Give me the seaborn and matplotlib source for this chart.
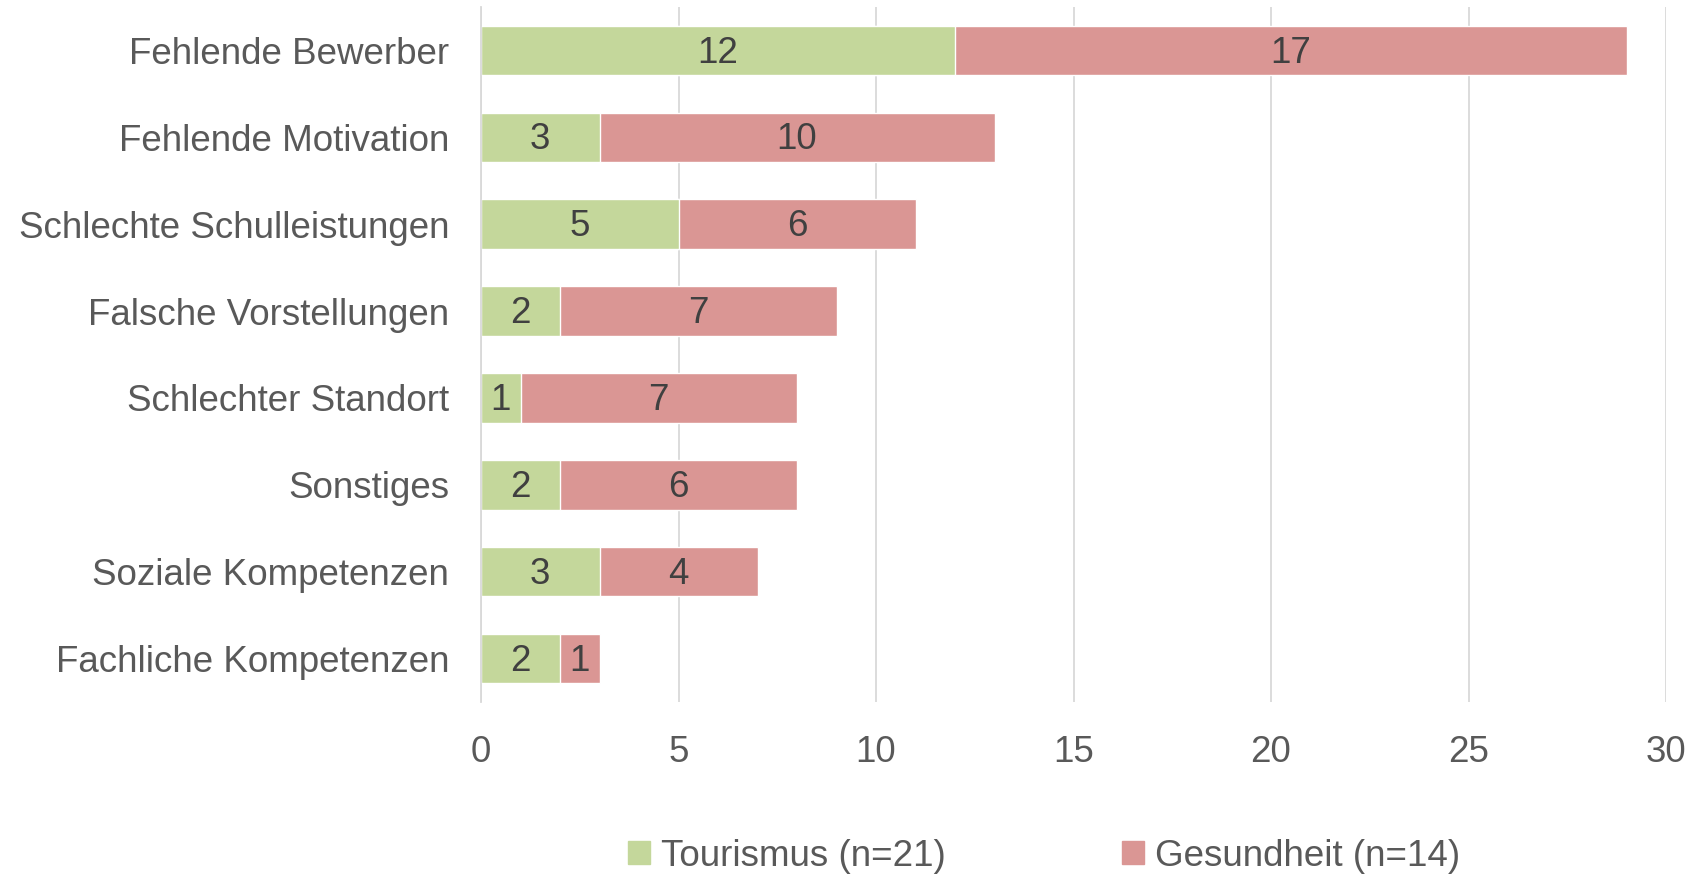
import numpy as np
import pandas as pd
import seaborn as sns
import matplotlib.pyplot as plt
from matplotlib.patches import Patch

categories = ["Fehlende Bewerber", "Fehlende Motivation", "Schlechte Schulleistungen",
              "Falsche Vorstellungen", "Schlechter Standort", "Sonstiges",
              "Soziale Kompetenzen", "Fachliche Kompetenzen"]
tourismus = [12, 3, 5, 2, 1, 2, 3, 2]
gesundheit = [17, 10, 6, 7, 7, 6, 4, 1]
series_names = ["Tourismus (n=21)", "Gesundheit (n=14)"]
green, red = "#C4D79B", "#DA9694"

sns.set_theme(style="white")
plt.rcParams["font.family"] = ["Liberation Sans", "DejaVu Sans"]

df = pd.DataFrame({"cat": categories, "tour": tourismus, "ges": gesundheit})
df["total"] = df["tour"] + df["ges"]

fig = plt.figure(figsize=(17.03, 8.75), dpi=100)
ax = fig.add_axes([481 / 1703, 1 - 702 / 875, (1666 - 481) / 1703, 695 / 875])

sns.barplot(data=df, y="cat", x="total", color=red, saturation=1, width=0.57, ax=ax, orient="h")
sns.barplot(data=df, y="cat", x="tour", color=green, saturation=1, width=0.57, ax=ax, orient="h")

for i, row in df.iterrows():
    ax.text(row.tour / 2, i + 0.03, str(row.tour), ha="center", va="center", fontsize=26.5, color="#404040")
    ax.text(row.tour + row.ges / 2, i + 0.03, str(row.ges), ha="center", va="center", fontsize=26.5, color="#404040")

ax.set_xlim(0, 30)
ax.set_ylim(7.5, -0.5)
ax.set_xticks(range(0, 31, 5))
ax.xaxis.grid(True, color="#D9D9D9", linewidth=1.3)
ax.set_axisbelow(True)
for s in ["top", "right", "bottom"]:
    ax.spines[s].set_visible(False)
ax.spines["left"].set_color("#D9D9D9")
ax.spines["left"].set_linewidth(1.3)
ax.set_xlabel("")
ax.set_ylabel("")
ax.tick_params(axis="both", length=0, labelsize=26.5, labelcolor="#595959")
ax.tick_params(axis="x", pad=24)
ax.tick_params(axis="y", pad=23)

handles = [Patch(color=green), Patch(color=red)]
fig.legend(handles, series_names, loc="center", bbox_to_anchor=(1044 / 1703, 1 - 856 / 875),
           ncol=2, frameon=False, fontsize=26.5, labelcolor="#595959",
           handlelength=0.6, handleheight=0.6, handletextpad=0.3, columnspacing=4.8)

fig.savefig("out.png", dpi=100)
